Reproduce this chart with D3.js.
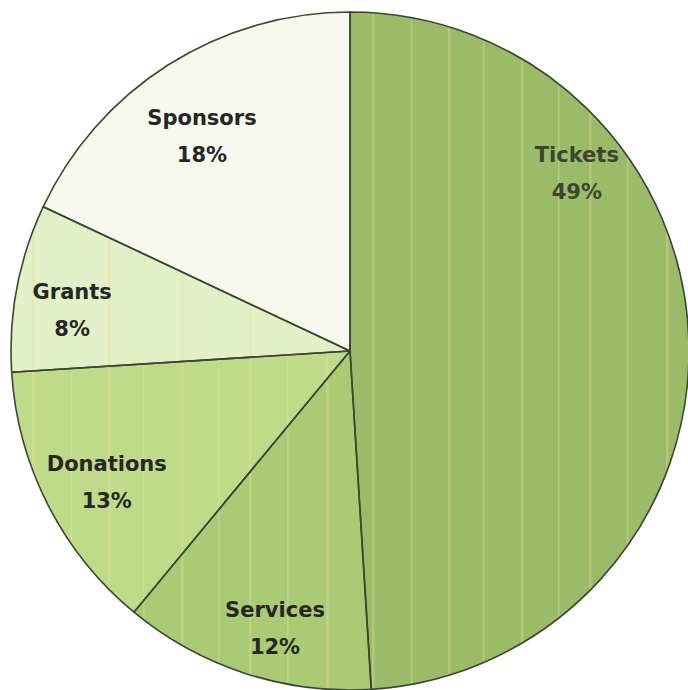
<!DOCTYPE html>
<html>
<head>
<meta charset="utf-8">
<script src="https://cdn.jsdelivr.net/npm/d3@7"></script>
<style>
  html, body { margin: 0; padding: 0; background: #ffffff; }
  svg { display: block; }
</style>
</head>
<body>
<svg id="chart" width="688" height="690"></svg>
<script>
// Revenue sources, in the order they run clockwise from 12 o'clock
const categories = ["Tickets", "Services", "Donations", "Grants", "Sponsors"];
const shares = [49, 12, 13, 8, 18];
const fills = ["#9bbb68", "#aacb74", "#bfdb8a", "#e3efc6", "#f6f9ec"];

// Label placement: angle (degrees clockwise from top) and distance from the centre
const labelAngles = [51.7, 195.2, 241.8, 278.6, 325.6];
const labelRadii = [289, 286, 276, 281, 262];

const cx = 350, cy = 351, radius = 339;

const svg = d3.select("#chart");
const defs = svg.append("defs");

// Faint vertical streaks running through the fills
const streakOffsets = [22, 61, 98, 133, 171, 208, 239, 277, 316];
const pattern = defs.append("pattern")
  .attr("id", "streaks")
  .attr("patternUnits", "userSpaceOnUse")
  .attr("width", 340)
  .attr("height", 690);
streakOffsets.forEach((x, i) => {
  pattern.append("rect")
    .attr("x", x)
    .attr("y", 0)
    .attr("width", i % 2 === 0 ? 2.5 : 1.5)
    .attr("height", 690)
    .attr("fill", i % 2 === 0 ? "#e6dc96" : "#d6eaa8")
    .attr("opacity", 0.35);
});

const g = svg.append("g").attr("transform", `translate(${cx},${cy})`);

const pie = d3.pie().sort(null).value(d => d.value);
const arc = d3.arc().innerRadius(0).outerRadius(radius);

const data = categories.map((c, i) => ({ name: c, value: shares[i], fill: fills[i] }));
const arcs = pie(data);

// Slices
g.selectAll("path.slice")
  .data(arcs)
  .join("path")
  .attr("class", "slice")
  .attr("d", arc)
  .attr("fill", d => d.data.fill);

// Streak overlay on the darker slices
g.selectAll("path.streak")
  .data(arcs.filter(d => d.index < 4))
  .join("path")
  .attr("class", "streak")
  .attr("d", arc)
  .attr("fill", "url(#streaks)");

// Slice outlines
g.selectAll("path.edge")
  .data(arcs)
  .join("path")
  .attr("class", "edge")
  .attr("d", arc)
  .attr("fill", "none")
  .attr("stroke", "#3b4633")
  .attr("stroke-width", 1.6)
  .attr("stroke-linejoin", "round");

// Labels: name over percentage
const labels = g.selectAll("text.label")
  .data(arcs)
  .join("text")
  .attr("class", "label")
  .attr("text-anchor", "middle")
  .attr("font-family", "'DejaVu Sans', sans-serif")
  .attr("font-weight", "bold")
  .attr("font-size", 21)
  .attr("fill", (d, i) => i === 0 ? "#3c4432" : "#262626")
  .attr("transform", (d, i) => {
    const [x, y] = d3.pointRadial(labelAngles[i] * Math.PI / 180, labelRadii[i]);
    return `translate(${x},${y})`;
  });

labels.append("tspan")
  .attr("x", 0)
  .attr("y", -10)
  .text(d => d.data.name);

labels.append("tspan")
  .attr("x", 0)
  .attr("y", 27)
  .text(d => d.data.value + "%");
</script>
</body>
</html>
